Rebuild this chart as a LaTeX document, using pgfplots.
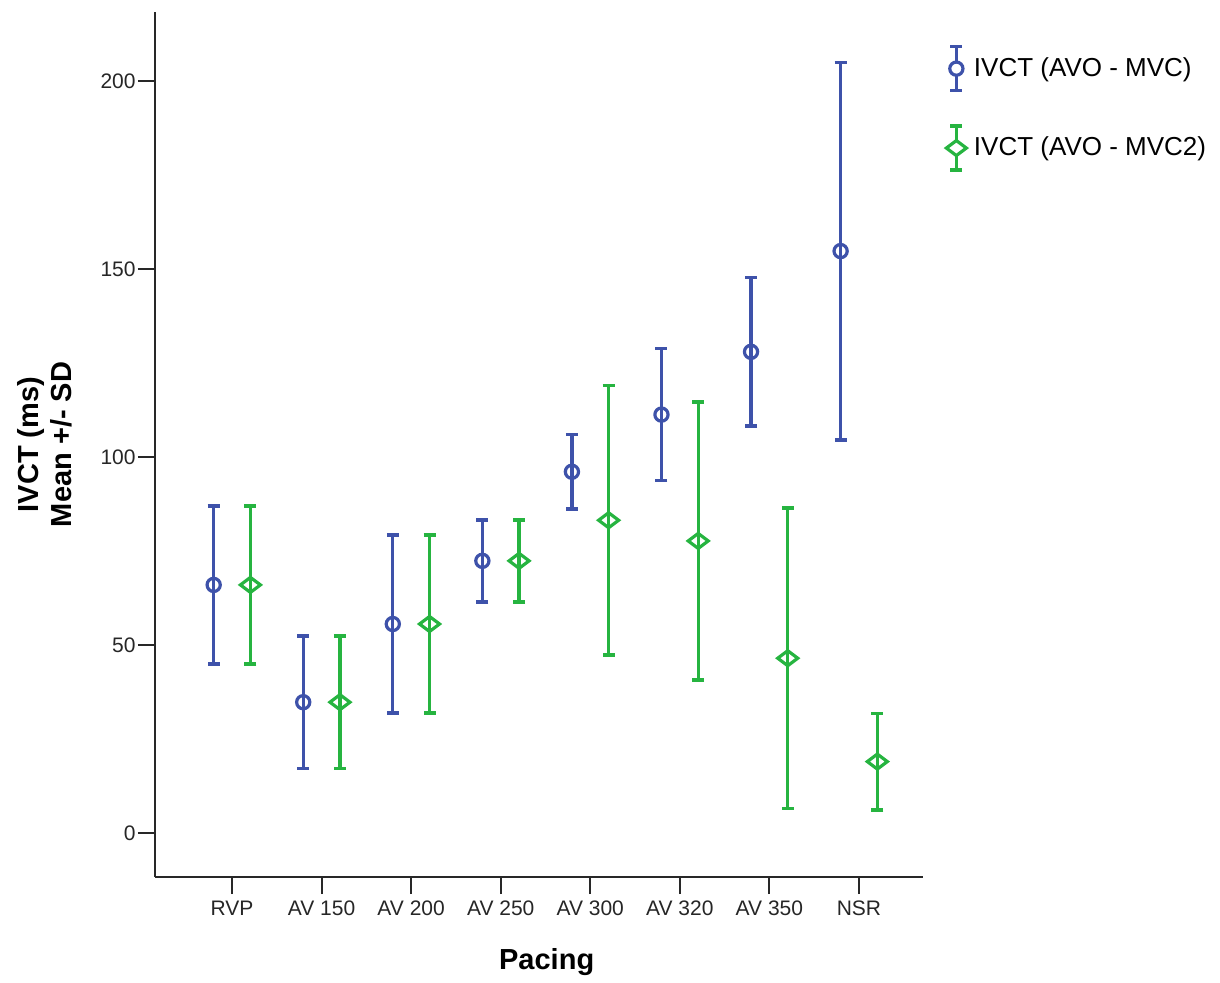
\documentclass[border=0pt]{standalone}
\usepackage{fontspec}
\setmainfont{Liberation Sans}
\usepackage{pgfplots}
\pgfplotsset{compat=1.18}
\usepackage{pgfplotstable}
\definecolor{cblue}{RGB}{62,82,170}
\definecolor{cgreen}{RGB}{38,180,64}
\definecolor{caxis}{RGB}{40,40,40}

\pgfplotstableread{
x y e
-0.205 66.0 21.0
0.795 34.8 17.6
1.795 55.6 23.7
2.795 72.4 10.9
3.795 96.1 9.9
4.795 111.3 17.6
5.795 128.0 19.7
6.795 154.8 50.2
}\tblue

\pgfplotstableread{
x y e
0.205 66.0 21.0
1.205 34.8 17.6
2.205 55.6 23.7
3.205 72.4 10.9
4.205 83.2 35.8
5.205 77.7 37.0
6.205 46.5 40.0
7.205 19.0 12.85
}\tgreen

\begin{document}
\begin{tikzpicture}
\begin{axis}[
  scale only axis,
  width=384pt, height=432.5pt,
  xmin=-0.86, xmax=7.715,
  ymin=-11.7, ymax=218.4,
  axis x line*=bottom, axis y line*=left,
  axis line style={caxis, line width=1pt},
  xtick={0,1,2,3,4,5,6,7},
  xticklabels={RVP,AV 150,AV 200,AV 250,AV 300,AV 320,AV 350,NSR},
  ytick={0,50,100,150,200},
  tick align=outside,
  major tick length=8.5pt,
  tick style={caxis, line width=1pt},
  /pgf/number format/assume math mode=true,
  tick label style={font=\fontsize{10.5}{12}\selectfont, color=black!85},
  yticklabel style={inner xsep=1pt},
  xlabel={Pacing},
  ylabel={IVCT (ms)\\Mean +/- SD},
  every axis x label/.style={at={(axis description cs:0.51,-0.098)}, anchor=center, font=\bfseries\fontsize{14.5}{16}\selectfont},
  every axis y label/.style={at={(axis description cs:-0.143,0.5)}, anchor=center, rotate=90, align=center, font=\bfseries\fontsize{14.5}{16.5}\selectfont},
  legend style={at={(axis description cs:1.02,0.967)}, anchor=north west, draw=none, fill=none,
    font=\fontsize{13}{14}\selectfont, row sep=16pt, nodes={inner xsep=3pt}},
  legend cell align=left,
  clip=false,
]
\addplot[cblue, line width=1.7pt, mark=o, mark size=3.3pt,
  mark options={fill=white, line width=1.6pt},
  only marks,
  error bars/.cd, y dir=both, y explicit,
  error bar style={line width=1.7pt, cblue},
  error mark options={rotate=90, mark size=3pt, line width=1.7pt, cblue},
  /pgfplots/legend image code/.code={
    \draw[cblue, line width=1.7pt] (0pt,-11pt) -- (0pt,11pt);
    \draw[cblue, line width=1.7pt] (-3pt,-11pt) -- (3pt,-11pt);
    \draw[cblue, line width=1.7pt] (-3pt,11pt) -- (3pt,11pt);
    \draw[cblue, line width=1.6pt, fill=white] (0pt,0pt) circle (3.3pt);
  }]
  table[x=x, y=y, y error=e] {\tblue};
\addlegendentry{IVCT (AVO - MVC)}
\addplot[cgreen, line width=1.7pt, mark=diamond, mark size=5pt,
  mark options={fill=white, line width=1.6pt, rotate=90},
  only marks,
  error bars/.cd, y dir=both, y explicit,
  error bar style={line width=1.7pt, cgreen},
  error mark options={rotate=90, mark size=3pt, line width=1.7pt, cgreen},
  /pgfplots/legend image code/.code={
    \draw[cgreen, line width=1.7pt] (0pt,-11pt) -- (0pt,11pt);
    \draw[cgreen, line width=1.7pt] (-3pt,-11pt) -- (3pt,-11pt);
    \draw[cgreen, line width=1.7pt] (-3pt,11pt) -- (3pt,11pt);
    \draw[cgreen, line width=1.6pt, fill=white] (-5pt,0pt) -- (0pt,3.75pt) -- (5pt,0pt) -- (0pt,-3.75pt) -- cycle;
  }]
  table[x=x, y=y, y error=e] {\tgreen};
\addlegendentry{IVCT (AVO - MVC2)}
\end{axis}
\path (-77.5pt,-52pt) rectangle (532.5pt,438.5pt);
\end{tikzpicture}
\end{document}
